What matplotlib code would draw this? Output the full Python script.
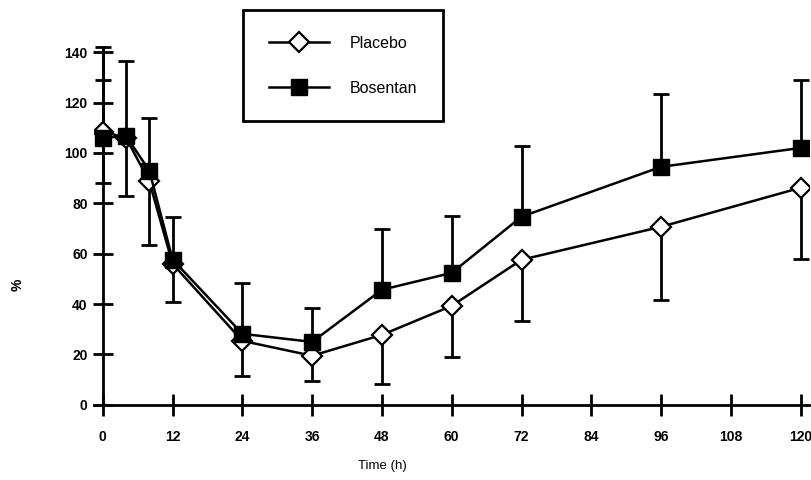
import numpy as np
import matplotlib
matplotlib.use("Agg")
import matplotlib.pyplot as plt

# Data
time_h = [0, 4, 8, 12, 24, 36, 48, 60, 72, 96, 120]
placebo = [108.5, 106, 88.7, 56, 25.4, 19.5, 27.8, 39.3, 57.6, 70.7, 86.2]
bosentan = [106, 106.7, 93, 57.7, 28.2, 25, 45.7, 52.4, 74.7, 94.5, 102]
# error-bar end points as visible in the chart
bosentan_upper = [142, 136.4, 114, 74.7, 48.4, 38.5, 69.9, 75, 102.9, 123.5, 129]
placebo_lower = [88.2, 82.9, 63.3, 41, 11.5, 9.6, 8.4, 19.1, 33.4, 41.7, 58]
placebo_upper_t0 = 129
x_ticks = [0, 12, 24, 36, 48, 60, 72, 84, 96, 108, 120]
y_ticks = [0, 20, 40, 60, 80, 100, 120, 140]

plt.rcParams['font.family'] = ['Liberation Sans', 'DejaVu Sans']

fig = plt.figure(figsize=(8.11, 4.8), dpi=100)
ax = fig.add_axes([0.116, 0.146, 0.882, 0.761])

t = np.array(time_h, dtype=float)
p = np.array(placebo)
b = np.array(bosentan)
bu = np.array(bosentan_upper) - b
pl = p - np.array(placebo_lower)

eb_kw = dict(fmt='none', ecolor='black', elinewidth=2.0, capsize=6, capthick=2.0, zorder=2)
_, caps_b, _ = ax.errorbar(t, b, yerr=[np.zeros_like(bu), bu], **eb_kw)
caps_b[0].set_visible(False)   # no lower caps for Bosentan
_, caps_p, _ = ax.errorbar(t, p, yerr=[pl, np.zeros_like(pl)], **eb_kw)
caps_p[1].set_visible(False)   # no upper caps for Placebo
_, caps_p0, _ = ax.errorbar(t[:1], p[:1], yerr=[[0], [placebo_upper_t0 - p[0]]], **eb_kw)
caps_p0[0].set_visible(False)

ax.plot(t, p, '-', color='black', lw=1.8, marker='D', ms=10, mfc='white',
        mec='black', mew=1.6, zorder=4, label='Placebo')
ax.plot(t, b, '-', color='black', lw=1.8, marker='s', ms=12, mfc='black',
        mec='black', zorder=5, label='Bosentan')

ax.set_xlim(-1.5, 121.5)
ax.set_ylim(-2, 143)
for s in ['top', 'right']:
    ax.spines[s].set_visible(False)
ax.spines['left'].set_position(('data', 0))
ax.spines['bottom'].set_position(('data', 0))
ax.spines['left'].set_bounds(0, 142)
ax.spines['left'].set_linewidth(2)
ax.spines['bottom'].set_linewidth(2)
ax.set_xticks(x_ticks)
ax.set_yticks(y_ticks)
ax.tick_params(axis='x', direction='inout', length=16, width=2, pad=10, labelsize=10)
ax.tick_params(axis='y', direction='inout', length=14, width=2, pad=4, labelsize=10)
for lab in ax.get_xticklabels() + ax.get_yticklabels():
    lab.set_fontweight('bold')

fig.text(382 / 811, 1 - 466 / 480, 'Time (h)', ha='center', va='center', fontsize=9.5)
fig.text(18 / 811, 1 - 285 / 480, '%', ha='center', va='center', fontsize=10,
         rotation=90, fontweight='bold')

leg = ax.legend(loc='upper left', bbox_to_anchor=(243 / 811, 1 - 10 / 480),
                bbox_transform=fig.transFigure, fancybox=False, edgecolor='black',
                framealpha=1, fontsize=11.5, handlelength=3.8, handletextpad=1.3,
                borderpad=1.6, labelspacing=1.9, borderaxespad=0)
leg.get_frame().set_linewidth(2)

fig.savefig('out.png', dpi=100)
